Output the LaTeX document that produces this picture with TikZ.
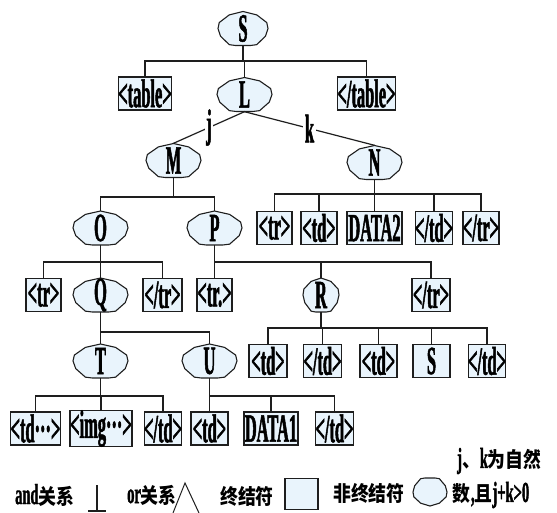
\documentclass[tikz,border=0pt]{standalone}
\usepackage{fontspec}
\newfontfamily\cond[FakeStretch=0.41, BoldFeatures={FakeBold=1.2}]{Liberation Serif}
\newfontfamily\condl[FakeStretch=0.5, BoldFeatures={FakeBold=1.2}]{Liberation Serif}
\newfontfamily\cjk[FakeStretch=0.85]{Noto Sans CJK SC}
\definecolor{ntfill}{RGB}{233,244,252}
\definecolor{linec}{RGB}{30,30,30}
\newcommand\cjkf{\cjk\bfseries\fontsize{21}{21}\selectfont}
\tikzset{
  treeline/.style={draw=linec, line width=1.2pt, line cap=rect},
  ntshape/.style={fill=ntfill, draw=linec, line width=1.1pt, line join=round},
  ntlabel/.style={inner sep=0pt, font=\cond\bfseries\fontsize{40}{40}\selectfont},
  termbox/.style={draw=linec, fill=ntfill, line width=1.1pt, inner sep=0pt, minimum height=33pt, font=\cond\bfseries\fontsize{40}{40}\selectfont},
  lbl/.style={fill=white, inner sep=1.5pt, font=\cond\bfseries\fontsize{40}{40}\selectfont},
  lgtext/.style={inner sep=0pt, anchor=west, font=\condl\bfseries\fontsize{29}{29}\selectfont},
}
\newcommand\NT[5]{%
  \begin{scope}[shift={(#2,#3)}]
    \filldraw[ntshape, xscale=#4/2, yscale=17] (0,-1) -- (0.55,-0.8) -- (0.95,-0.35) -- (1,0) -- (0.9,0.45) -- (0.55,0.95) -- (0.3,1) -- (-0.3,1) -- (-0.55,0.95) -- (-0.9,0.45) -- (-1,0) -- (-0.95,-0.35) -- (-0.55,-0.8) -- cycle;
  \end{scope}
  \node[ntlabel, minimum width=#4pt, minimum height=34pt] (#1) at (#2,#3) {#5};
}
\newcommand\kids[5]{%
  \coordinate (tmpbar) at (0,#2);
  \draw[treeline] (#1.south) -- (#1.south |- tmpbar);
  \draw[treeline] (#3.north) -- (#3.north |- tmpbar) -- (#4.north |- tmpbar) -- (#4.north);
  \foreach \c in {#5} {\draw[treeline] (\c.north) -- (\c.north |- tmpbar);}
}
\begin{document}
\begin{tikzpicture}[x=1pt, y=-1pt]
\useasboundingbox (0,0) rectangle (557,513);
% level 0-1
\NT{S}{243}{28.5}{50}{S}
\node[termbox, minimum width=48pt] (tblL) at (145,93.5) {<table>};
\NT{L}{244.5}{94.5}{55}{L}
\node[termbox, minimum width=49pt] (tblR) at (366.5,93.5) {</table>};
% level 2
\NT{M}{173.5}{160.5}{55}{M}
\NT{N}{374.5}{162.5}{55}{N}
% level 3
\NT{O}{100.5}{228}{55}{O}
\NT{P}{214.5}{228}{55}{P}
\node[termbox, minimum width=35pt] (n1) at (274.5,228) {<tr>};
\node[termbox, minimum width=36pt] (n2) at (319,228) {<td>};
\node[termbox, minimum width=55pt] (n3) at (374.5,228) {DATA2};
\node[termbox, minimum width=36pt] (n4) at (434,228) {</td>};
\node[termbox, minimum width=30pt] (n5) at (481,228) {</tr>};
% level 4
\node[termbox, minimum width=35pt] (o1) at (43.5,295) {<tr>};
\NT{Q}{100.5}{295}{55}{Q}
\node[termbox, minimum width=39pt] (o3) at (162.5,295) {</tr>};
\node[termbox, minimum width=35pt] (p1) at (214.5,295) {<tr.>};
\NT{R}{321}{295}{36}{R}
\node[termbox, minimum width=38pt] (p3) at (431,295) {</tr>};
% level 5
\NT{T}{100.5}{361}{55}{T}
\NT{U}{209.5}{361}{55}{U}
\node[termbox, minimum width=38pt] (r1) at (268,361) {<td>};
\node[termbox, minimum width=37pt] (r2) at (322.5,361) {</td>};
\node[termbox, minimum width=37pt] (r3) at (378.5,361) {<td>};
\node[termbox, minimum width=37pt] (r4) at (431.5,361) {S};
\node[termbox, minimum width=36pt] (r5) at (487,361) {</td>};
% level 6
\node[termbox, minimum width=45pt] (t1) at (35.5,428.5) {<td···>};
\node[termbox, minimum width=62pt] (t2) at (101,428.5) {<img···>};
\node[termbox, minimum width=34pt] (t3) at (163,428.5) {</td>};
\node[termbox, minimum width=37pt] (u1) at (209.5,428.5) {<td>};
\node[termbox, minimum width=54pt] (u2) at (271,428.5) {DATA1};
\node[termbox, minimum width=35pt] (u3) at (334.5,428.5) {</td>};
% connectors
\kids{S}{61}{tblL}{tblR}{L}
\draw[treeline] (L.south) -- node[lbl] {j} (M.north);
\draw[treeline] (L.south) -- node[lbl] {k} (N.north);
\kids{M}{197}{O}{P}{}
\kids{N}{194}{n1}{n5}{n2,n3,n4}
\kids{O}{262}{o1}{o3}{Q}
\kids{P}{262}{p1}{p3}{R}
\kids{Q}{332}{T}{U}{}
\kids{R}{328}{r1}{r5}{r2,r3,r4}
\kids{T}{396}{t1}{t3}{t2}
\kids{U}{396}{u1}{u3}{u2}
% legend
\node[lgtext] (lg6) at (457,461) {j{\cjkf 、}k{\cjkf 为自然}};
\node[lgtext] (lg1) at (15,495) {and{\cjkf 关系}};
\draw[treeline, line cap=butt] (97,485) -- (97,511) (88,511) -- (106,511);
\node[lgtext] (lg2) at (127,495) {or{\cjkf 关系}};
\draw[treeline, line cap=butt, line width=1pt] (173,513) -- (185,483) -- (199,513);
\node[lgtext] (lg3) at (220,496) {{\cjkf 终结符}};
\node[termbox, minimum width=33pt, minimum height=31pt] (lgbox) at (301.5,494) {};
\node[lgtext] (lg4) at (333,493) {{\cjkf 非终结符}};
\begin{scope}[shift={(430,492)}]
  \filldraw[ntshape, xscale=17, yscale=-14] (0,-1) -- (0.55,-0.8) -- (0.95,-0.35) -- (1,0) -- (0.9,0.45) -- (0.55,0.95) -- (0.3,1) -- (-0.3,1) -- (-0.55,0.95) -- (-0.9,0.45) -- (-1,0) -- (-0.95,-0.35) -- (-0.55,-0.8) -- cycle;
\end{scope}
\node[lgtext] (lg5) at (452,495) {{\cjkf 数}\hspace{1pt},{\cjkf 且}j+k>0};
\end{tikzpicture}
\end{document}
